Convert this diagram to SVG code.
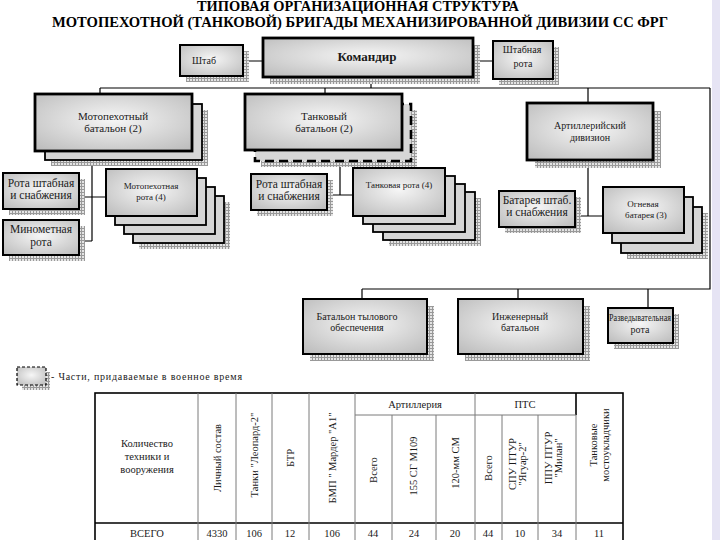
<svg xmlns="http://www.w3.org/2000/svg" width="720" height="540" viewBox="0 0 720 540" font-family="'Liberation Serif', 'DejaVu Serif', serif">
<defs>
<pattern id="hatch" width="3" height="3" patternUnits="userSpaceOnUse"><rect width="3" height="3" fill="#e4e4e4"/><path d="M0 0.5H3M0.5 0V3" stroke="#999" stroke-width="1"/></pattern>
<radialGradient id="g" cx="50%" cy="45%" r="75%"><stop offset="0" stop-color="#f6f6f6"/><stop offset="1" stop-color="#b9b9b9"/></radialGradient>
</defs>
<style>
text{font-family:'Liberation Serif','DejaVu Serif',serif;fill:#1a1a1a;font-size:10px;text-anchor:middle}
.t{font-weight:bold;font-size:14px;fill:#000}
.m{font-size:11px}
.s{font-size:11.5px}
.tt{font-size:10.5px}
.sh{fill:url(#hatch)}
.b{fill:url(#g);stroke:#000;stroke-width:2}
.bk{fill:#d6d6d6;stroke:#000;stroke-width:1.8}
.thick{stroke-width:2.8}
.dash{fill:#d6d6d6;stroke:#000;stroke-width:2.6;stroke-dasharray:9 5}
.c{stroke:#000;stroke-width:1.2;fill:none}
.tl{stroke:#7a7a7a;stroke-width:1;fill:none}
.tb{stroke:#000;stroke-width:1.6;fill:none}
</style>
<rect width="720" height="540" fill="#fff"/>
<rect x="712" y="0" width="8" height="540" fill="#e6e4f4"/>
<text class="t" x="358" y="11" textLength="322" lengthAdjust="spacingAndGlyphs">ТИПОВАЯ ОРГАНИЗАЦИОННАЯ СТРУКТУРА</text>
<text class="t" x="360" y="27" textLength="616" lengthAdjust="spacingAndGlyphs">МОТОПЕХОТНОЙ (ТАНКОВОЙ) БРИГАДЫ МЕХАНИЗИРОВАННОЙ  ДИВИЗИИ СС ФРГ</text>

<g id="connectors">
<path class="c" d="M243 61H263M473 61H493M371 77V88M100 88H710M100 88V94M325 88V94M588 88V103M710 88V289H362M362 289V299M518 289V299M648 289V308"/>
<path class="c" d="M92 160V241M79 197H106M79 241H92"/>
<path class="c" d="M340 161V195M327 195H353"/>
<path class="c" d="M588 160V216M575 216H603"/>
</g>

<g id="shtab"><rect class="sh" x="186" y="51" width="63" height="31"/><rect class="b" x="180" y="45" width="63" height="31"/><text x="204" y="64">Штаб</text></g>
<g id="komandir"><rect class="sh" x="270" y="45" width="210" height="39"/><rect class="b thick" x="263" y="38" width="210" height="39"/><text x="367" y="61" style="font-weight:bold;font-size:13px">Командир</text></g>
<g id="shtabnaya-rota"><rect class="sh" x="499" y="47" width="60" height="38"/><rect class="b" x="493" y="41" width="60" height="38"/><text x="522" y="53">Штабная</text><text x="523" y="67">рота</text></g>

<g id="motopeh-bat"><rect class="sh" x="51" y="110" width="157" height="56"/><rect class="bk" x="45" y="104" width="157" height="56"/><rect class="b thick" x="35" y="94" width="157" height="57"/><text class="m" x="113" y="120">Мотопехотный</text><text class="m" x="113" y="132">батальон (2)</text></g>
<g id="rota-shtab-1"><rect class="sh" x="9" y="179" width="76" height="36"/><rect class="b" x="3" y="173" width="76" height="36"/><text class="s" x="41" y="187">Рота штабная</text><text class="s" x="41" y="199">и снабжения</text></g>
<g id="minomet"><rect class="sh" x="9" y="226" width="76" height="35"/><rect class="b" x="3" y="220" width="76" height="35"/><text class="s" x="41" y="233">Минометная</text><text class="s" x="41" y="246">рота</text></g>
<g id="motopeh-rota"><rect class="sh" x="139" y="202" width="91" height="47"/><rect class="bk" x="133" y="196" width="91" height="47"/><rect class="bk" x="124" y="187" width="91" height="47"/><rect class="bk" x="115" y="178" width="91" height="47"/><rect class="b" x="106" y="169" width="91" height="47"/><text x="151" y="189" style="font-size:9px">Мотопехотная</text><text x="151" y="200" style="font-size:9px">рота (4)</text></g>

<g id="tank-bat"><rect class="sh" x="261" y="110" width="156" height="57"/><rect class="dash" x="255" y="104" width="156" height="57"/><rect class="b thick" x="245" y="94" width="157" height="56"/><text class="m" x="324" y="120">Танковый</text><text class="m" x="324" y="132">батальон (2)</text></g>
<g id="rota-shtab-2"><rect class="sh" x="257" y="180" width="76" height="36"/><rect class="b" x="251" y="174" width="76" height="36"/><text class="s" x="289" y="188">Рота штабная</text><text class="s" x="289" y="200">и снабжения</text></g>
<g id="tank-rota"><rect class="sh" x="389" y="198" width="92" height="48"/><rect class="bk" x="383" y="192" width="92" height="48"/><rect class="bk" x="373" y="184" width="92" height="48"/><rect class="bk" x="363" y="176" width="92" height="48"/><rect class="b" x="353" y="168" width="92" height="48"/><text x="399" y="188" style="font-size:9px">Танковая рота (4)</text></g>

<g id="art-div"><rect class="sh" x="535" y="111" width="126" height="57"/><rect class="b thick" x="527" y="103" width="126" height="57"/><text x="590" y="129">Артиллерийский</text><text x="590" y="141">дивизион</text></g>
<g id="batareya-shtab"><rect class="sh" x="505" y="197" width="76" height="36"/><rect class="b" x="499" y="191" width="76" height="36"/><text class="s" x="537" y="204">Батарея штаб.</text><text class="s" x="537" y="216">и снабжения</text></g>
<g id="ognevaya"><rect class="sh" x="627" y="213" width="81" height="46"/><rect class="bk" x="621" y="207" width="81" height="46"/><rect class="bk" x="612" y="197" width="81" height="46"/><rect class="b" x="603" y="187" width="81" height="46"/><text x="643" y="207" style="font-size:9px">Огневая</text><text x="646" y="218" style="font-size:9px">батарея (3)</text></g>

<g id="tyl-bat"><rect class="sh" x="310" y="306" width="124" height="55"/><rect class="b" x="303" y="299" width="124" height="55"/><text x="357" y="320">Батальон тылового</text><text x="357" y="331">обеспечения</text></g>
<g id="inzh-bat"><rect class="sh" x="465" y="306" width="125" height="55"/><rect class="b" x="458" y="299" width="125" height="55"/><text x="520" y="320">Инженерный</text><text x="520" y="331">батальон</text></g>
<g id="razv-rota"><rect class="sh" x="614" y="314" width="65" height="35"/><rect class="b" x="608" y="308" width="65" height="35"/><text x="640" y="321" textLength="62" lengthAdjust="spacingAndGlyphs">Разведывательная</text><text x="640" y="333">рота</text></g>

<g id="legend"><rect class="sh" x="22" y="372" width="28" height="18"/><rect x="17" y="367" width="29" height="18" fill="url(#g)" stroke="#000" stroke-width="1.2" stroke-dasharray="3 2"/><text x="51" y="380" style="text-anchor:start" textLength="191" lengthAdjust="spacing">- Части, придаваемые в военное время</text></g>

<g id="table">
<rect class="tb" x="95" y="393" width="528" height="160"/>
<path class="tb" d="M95 523H623M576 393V415"/>
<path class="tl" d="M198 393V545M236 393V545M272 393V545M309 393V545M355 393V545M475 393V545M576 415V545M355 415H576M392 415V545M436 415V545M502 415V545M538 415V545"/>
<text class="tt" x="147" y="447">Количество</text><text class="tt" x="147" y="460">техники и</text><text class="tt" x="147" y="473">вооружения</text>
<text class="tt" x="415" y="408">Артиллерия</text><text class="tt" x="525" y="408">ПТС</text>
<text class="tt" transform="translate(221,458) rotate(-90)">Личный состав</text>
<text class="tt" transform="translate(258,455) rotate(-90)">Танки "Леопард-2"</text>
<text class="tt" transform="translate(294,458) rotate(-90)">БТР</text>
<text class="tt" transform="translate(336,458) rotate(-90)">БМП " Мардер "А1"</text>
<text class="tt" transform="translate(377,470) rotate(-90)">Всего</text>
<text class="tt" transform="translate(417,466) rotate(-90)">155 СГ М109</text>
<text class="tt" transform="translate(459,463) rotate(-90)">120-мм СМ</text>
<text class="tt" transform="translate(492,468) rotate(-90)">Всего</text>
<text class="tt" transform="translate(516,464) rotate(-90)">СПУ ПТУР</text>
<text class="tt" transform="translate(526,464) rotate(-90)">"Ягуар-2"</text>
<text class="tt" transform="translate(552,458) rotate(-90)">ППУ ПТУР</text>
<text class="tt" transform="translate(562,458) rotate(-90)">"Милан"</text>
<text class="tt" transform="translate(597,445) rotate(-90)">Танковые</text>
<text class="tt" transform="translate(609,445) rotate(-90)">мостоукладчики</text>
<text class="tt" x="147" y="537">ВСЕГО</text><text class="tt" x="217" y="537">4330</text><text class="tt" x="254" y="537">106</text><text class="tt" x="290" y="537">12</text><text class="tt" x="332" y="537">106</text><text class="tt" x="373" y="537">44</text><text class="tt" x="414" y="537">24</text><text class="tt" x="455" y="537">20</text><text class="tt" x="488" y="537">44</text><text class="tt" x="520" y="537">10</text><text class="tt" x="557" y="537">34</text><text class="tt" x="599" y="537">11</text>
</g>
</svg>
